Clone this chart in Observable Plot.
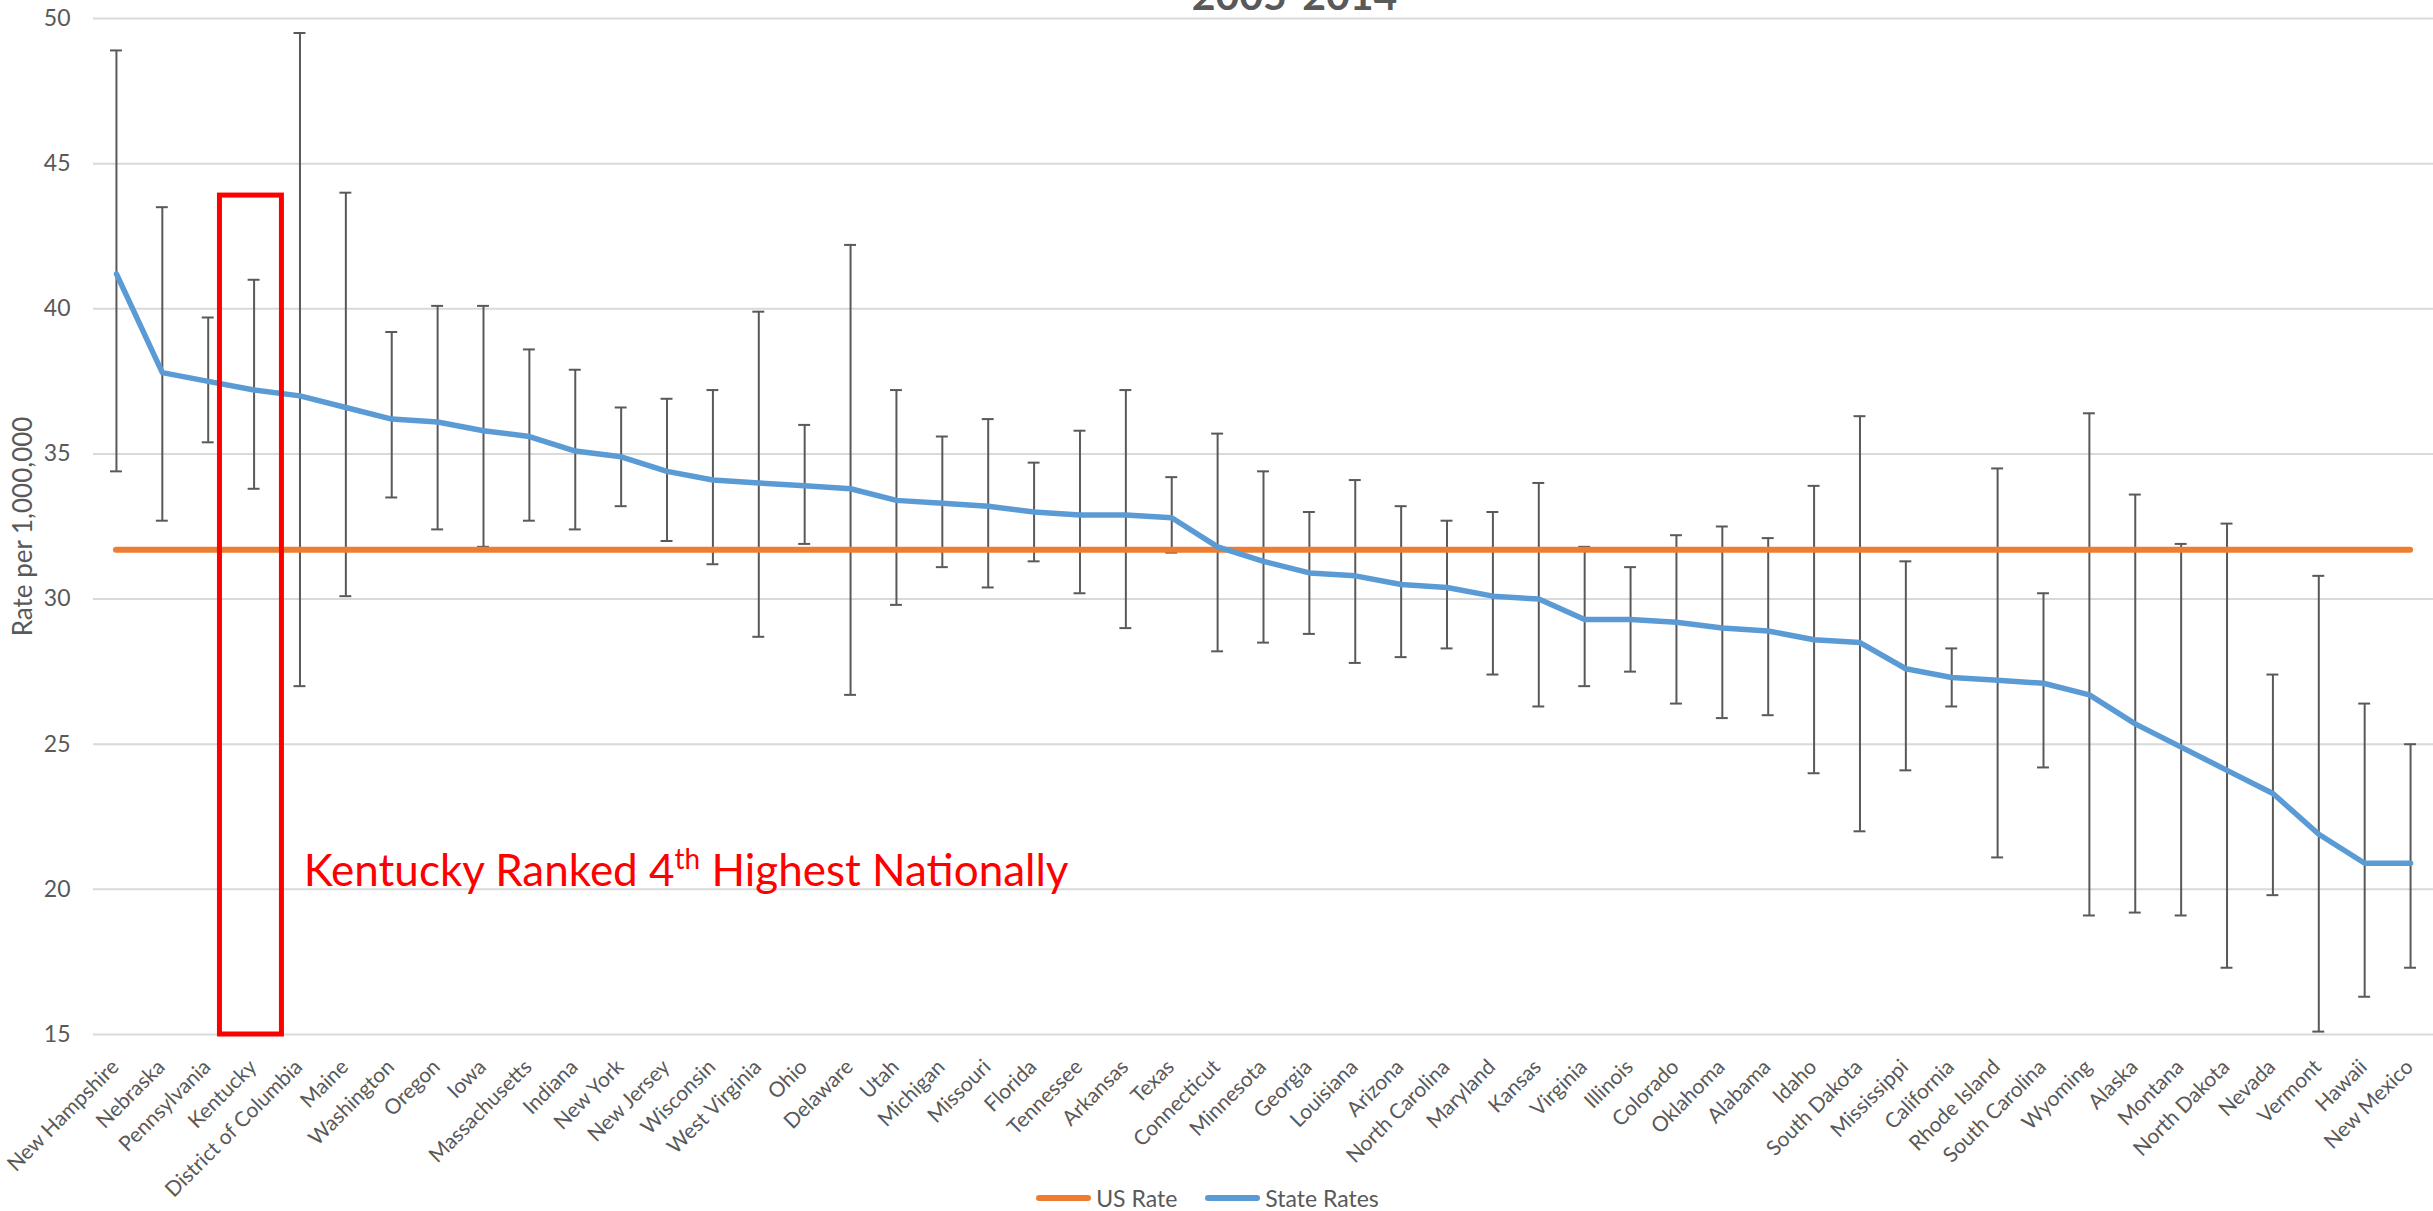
<!DOCTYPE html>
<html>
<head>
<meta charset="utf-8">
<script src="https://cdn.jsdelivr.net/npm/d3@7"></script>
<script src="https://cdn.jsdelivr.net/npm/@observablehq/plot@0.6"></script>
<style>
  html, body { margin: 0; padding: 0; background: #fff; }
  #wrap { position: relative; width: 2433px; height: 1211px; overflow: hidden; font-family: Lato, "Open Sans", sans-serif; }
  #chart { position: absolute; left: 0; top: 0; }
  #chart svg { overflow: visible; }
  #legend { position: absolute; left: 0; top: 1184px; width: 2433px; box-sizing: border-box; padding-right: 18px;
            display: flex; justify-content: center; align-items: center; font-size: 23px; line-height: 28px; color: #595959; }
  #legend .item { display: flex; align-items: center; }
  #legend .item + .item { margin-left: 28px; }
  #legend .sw { display: inline-block; width: 55px; height: 6px; border-radius: 3px; margin-right: 5px; }
</style>
</head>
<body>
<div id="wrap">
  <div id="chart"></div>
  <div id="legend"></div>
</div>
<script>
// ---- data ----
const states = ["New Hampshire","Nebraska","Pennsylvania","Kentucky","District of Columbia","Maine","Washington","Oregon","Iowa","Massachusetts",
  "Indiana","New York","New Jersey","Wisconsin","West Virginia","Ohio","Delaware","Utah","Michigan","Missouri",
  "Florida","Tennessee","Arkansas","Texas","Connecticut","Minnesota","Georgia","Louisiana","Arizona","North Carolina",
  "Maryland","Kansas","Virginia","Illinois","Colorado","Oklahoma","Alabama","Idaho","South Dakota","Mississippi",
  "California","Rhode Island","South Carolina","Wyoming","Alaska","Montana","North Dakota","Nevada","Vermont","Hawaii","New Mexico"];
const stateRates = [41.2,37.8,37.5,37.2,37.0,36.6,36.2,36.1,35.8,35.6,
  35.1,34.9,34.4,34.1,34.0,33.9,33.8,33.4,33.3,33.2,
  33.0,32.9,32.9,32.8,31.8,31.3,30.9,30.8,30.5,30.4,
  30.1,30.0,29.3,29.3,29.2,29.0,28.9,28.6,28.5,27.6,
  27.3,27.2,27.1,26.7,25.7,24.9,24.1,23.3,21.9,20.9,20.9];
const lowerCI = [34.4,32.7,35.4,33.8,27.0,30.1,33.5,32.4,31.8,32.7,
  32.4,33.2,32.0,31.2,28.7,31.9,26.7,29.8,31.1,30.4,
  31.3,30.2,29.0,31.6,28.2,28.5,28.8,27.8,28.0,28.3,
  27.4,26.3,27.0,27.5,26.4,25.9,26.0,24.0,22.0,24.1,
  26.3,21.1,24.2,19.1,19.2,19.1,17.3,19.8,15.1,16.3,17.3];
const upperCI = [48.9,43.5,39.7,41.0,49.5,44.0,39.2,40.1,40.1,38.6,
  37.9,36.6,36.9,37.2,39.9,36.0,42.2,37.2,35.6,36.2,
  34.7,35.8,37.2,34.2,35.7,34.4,33.0,34.1,33.2,32.7,
  33.0,34.0,31.8,31.1,32.2,32.5,32.1,33.9,36.3,31.3,
  28.3,34.5,30.2,36.4,33.6,31.9,32.6,27.4,30.8,26.4,25.0];
const usRate = 31.7;
const yTicks = [15, 20, 25, 30, 35, 40, 45, 50];
const seriesNames = ["US Rate", "State Rates"];
const titleText = "2005-2014";
const yLabel = "Rate per 1,000,000";
const highlightState = "Kentucky";
const highlightTop = 43.9;
const noteText = ["Kentucky Ranked 4", "th", " Highest Nationally"];

// ---- styles ----
const colorUS = "#ED7D31", colorState = "#5B9BD5", colorErr = "#595959", colorText = "#595959";
const fontFamily = "Lato, 'Open Sans', sans-serif";

// fit the category-label font so label lengths match the reference's (px lengths of a few labels)
const labelLengthTargets = [["District of Columbia", 188], ["Massachusetts", 137], ["New Hampshire", 143]];
const ctx = document.createElement("canvas").getContext("2d");
ctx.font = `100px ${fontFamily}`;
const fitted = d3.mean(labelLengthTargets, ([s, L]) => L / ctx.measureText(s).width * 100);
const labelFont = Math.max(18, Math.min(28, fitted || 22));

const rows = states.map((s, i) => ({i, state: s, rate: stateRates[i], lo: lowerCI[i], hi: upperCI[i]}));
const hi = states.indexOf(highlightState);
const capHalf = 0.13;

const chart = Plot.plot({
  width: 2433,
  height: 1211,
  marginLeft: 93,
  marginRight: 0,
  marginTop: 18,
  marginBottom: 177,
  style: {fontFamily, background: "transparent", overflow: "visible"},
  x: {domain: [-0.5, states.length - 0.5], axis: null},
  y: {domain: [15, 50], axis: null},
  marks: [
    Plot.gridY(yTicks, {stroke: "#D9D9D9", strokeWidth: 2, strokeOpacity: 1}),
    Plot.axisY(yTicks, {tickSize: 0, tickPadding: 23, fontSize: 23, fill: colorText, label: null}),
    Plot.ruleX(rows, {x: "i", y1: "lo", y2: "hi", stroke: colorErr, strokeWidth: 2}),
    Plot.ruleY(rows, {y: "lo", x1: d => d.i - capHalf, x2: d => d.i + capHalf, stroke: colorErr, strokeWidth: 2}),
    Plot.ruleY(rows, {y: "hi", x1: d => d.i - capHalf, x2: d => d.i + capHalf, stroke: colorErr, strokeWidth: 2}),
    Plot.ruleY([usRate], {x1: 0, x2: states.length - 1, stroke: colorUS, strokeWidth: 6, strokeLinecap: "round"}),
    Plot.line(rows, {x: "i", y: "rate", stroke: colorState, strokeWidth: 5.5, strokeLinejoin: "round", strokeLinecap: "round"}),
    Plot.rect([{}], {x1: hi - 0.744, x2: hi + 0.607, y1: 15, y2: highlightTop, fill: "none", stroke: "#FF0000", strokeWidth: 5}),
    Plot.text([noteText.join("")], {x: hi + 1.08, y: 20.13, textAnchor: "start", lineAnchor: "bottom", fontSize: 44, fill: "#FF0000"}),
    Plot.text(rows, {x: "i", text: "state", frameAnchor: "bottom", rotate: -45, textAnchor: "end", lineAnchor: "middle", dx: -1, dy: 29, fontSize: labelFont, fill: colorText}),
    Plot.text([yLabel], {frameAnchor: "left", rotate: -90, dx: -70, textAnchor: "middle", lineAnchor: "middle", fontSize: 26, fill: colorText}),
    Plot.text([titleText], {frameAnchor: "top", lineAnchor: "bottom", dx: 31, dy: -8.5, fontSize: 41, fontWeight: "bold", fill: colorText})
  ]
});
document.getElementById("chart").appendChild(chart);

// superscript "th" in the annotation
for (const t of chart.querySelectorAll("text")) {
  if (t.textContent === noteText.join("")) {
    t.textContent = "";
    const ns = "http://www.w3.org/2000/svg";
    const a = document.createElementNS(ns, "tspan"); a.textContent = noteText[0];
    const b = document.createElementNS(ns, "tspan"); b.textContent = noteText[1];
    b.setAttribute("font-size", "28"); b.setAttribute("dy", "-17");
    const c = document.createElementNS(ns, "tspan"); c.textContent = noteText[2];
    c.setAttribute("dy", "17");
    t.append(a, b, c);
  }
}

// legend
const legend = document.getElementById("legend");
[colorUS, colorState].forEach((col, k) => {
  const item = document.createElement("div"); item.className = "item";
  const sw = document.createElement("span"); sw.className = "sw"; sw.style.background = col;
  const lab = document.createElement("span"); lab.textContent = seriesNames[k];
  item.append(sw, lab); legend.append(item);
});
</script>
</body>
</html>
